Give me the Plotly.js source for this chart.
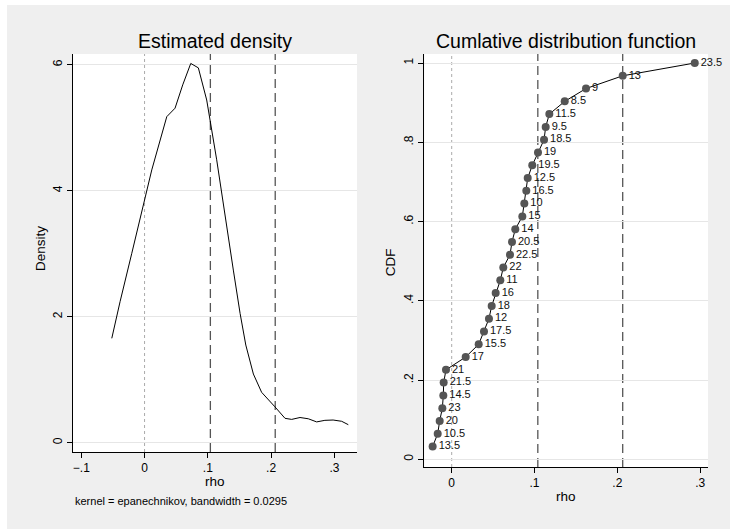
<!DOCTYPE html>
<html>
<head>
<meta charset="utf-8">
<script src="https://cdn.plot.ly/plotly-3.0.1.min.js"></script>
<style>
html,body{margin:0;padding:0;background:#ffffff;}
#chart{position:absolute;left:7px;top:5px;width:723px;height:524px;}
</style>
</head>
<body>
<div id="chart"></div>
<script>
// Estimated density (kernel density of rho)
const densX = [-0.0518,-0.0387,-0.0202,-0.0071,0.0114,0.0351,0.0482,0.0603,0.0730,0.0850,0.0982,0.1140,0.1280,0.1403,0.1510,0.1600,0.1720,0.1850,0.2060,0.2220,0.2325,0.2457,0.2588,0.2720,0.2850,0.2980,0.3115,0.3220];
const densY = [1.657,2.24,3.006,3.535,4.33,5.175,5.31,5.68,6.02,5.95,5.44,4.49,3.535,2.74,2.05,1.55,1.09,0.80,0.57,0.387,0.37,0.40,0.38,0.33,0.355,0.36,0.34,0.286];

// Cumulative distribution function
const cdfRho = [-0.0230,-0.0169,-0.0145,-0.0113,-0.0101,-0.0097,-0.0069,0.0169,0.0326,0.0390,0.0450,0.0483,0.0531,0.0587,0.0623,0.0704,0.0728,0.0768,0.0853,0.0877,0.0901,0.0918,0.0973,0.1042,0.1115,0.1135,0.1179,0.1365,0.1622,0.2065,0.2935];
const cdfVals = [0.0323,0.0645,0.0968,0.1290,0.1613,0.1935,0.2258,0.2581,0.2903,0.3226,0.3548,0.3871,0.4194,0.4516,0.4839,0.5161,0.5484,0.5806,0.6129,0.6452,0.6774,0.7097,0.7419,0.7742,0.8065,0.8387,0.8710,0.9032,0.9355,0.9677,1.0000];
const cdfLabels = ["13.5","10.5","20","23","14.5","21.5","21","17","15.5","17.5","12","18","16","11","22","22.5","20.5","14","15","10","16.5","12.5","19.5","19","18.5","9.5","11.5","8.5","9","13","23.5"];

// Reference lines
const zeroLine = 0;
const refLines = [0.104, 0.2065];

// Tick labels
const densXTicks = [-0.1, 0, 0.1, 0.2, 0.3];
const densXTickText = ["\u2212.1", "0", ".1", ".2", ".3"];
const densYTicks = [0, 2, 4, 6];
const densYTickText = ["0", "2", "4", "6"];
const cdfXTicks = [0, 0.1, 0.2, 0.3];
const cdfXTickText = ["0", ".1", ".2", ".3"];
const cdfYTicks = [0, 0.2, 0.4, 0.6, 0.8, 1];
const cdfYTickText = ["0", ".2", ".4", ".6", ".8", "1"];

const FONT = "Liberation Sans, Arial, Helvetica, sans-serif";

const traces = [
  {x: densX, y: densY, type: 'scatter', mode: 'lines', xaxis: 'x', yaxis: 'y',
   line: {color: '#000000', width: 1}, hoverinfo: 'skip'},
  {x: cdfRho, y: cdfVals, text: cdfLabels, type: 'scatter', mode: 'lines+markers+text',
   xaxis: 'x2', yaxis: 'y2', textposition: 'middle right',
   textfont: {family: FONT, size: 11, color: '#111111'},
   line: {color: '#000000', width: 1},
   marker: {color: '#555555', size: 8}, cliponaxis: false, hoverinfo: 'skip'}
];

const shapes = [];
function vline(xv, xr, yr, dash, color, width) {
  shapes.push({type: 'line', xref: xr, yref: yr + ' domain', x0: xv, x1: xv, y0: 0, y1: 1,
    line: {color: color, width: width, dash: dash}, layer: 'below'});
}
[['x','y'],['x2','y2']].forEach(function(p){
  vline(zeroLine, p[0], p[1], 'dot', '#aaaaaa', 1);
  refLines.forEach(function(v){ vline(v, p[0], p[1], '9px,5px', '#555555', 1.3); });
});

function axisBase() {
  return {showline: true, linecolor: '#000000', linewidth: 1, ticks: 'outside', ticklen: 5,
    tickcolor: '#000000', tickwidth: 1, zeroline: false, tickmode: 'array',
    tickfont: {family: FONT, size: 12, color: '#000000'}, fixedrange: true};
}

const layout = {
  width: 723, height: 524,
  margin: {l: 66, r: 22, t: 49, b: 62},
  paper_bgcolor: '#efefef', plot_bgcolor: '#ffffff',
  showlegend: false,
  font: {family: FONT, color: '#000000'},
  xaxis: Object.assign(axisBase(), {domain: [0, 0.4472], range: [-0.1131, 0.3357],
    tickvals: densXTicks, ticktext: densXTickText, showgrid: false, anchor: 'y'}),
  yaxis: Object.assign(axisBase(), {domain: [0.0363, 1], range: [-0.1476, 6.170],
    tickvals: densYTicks, ticktext: densYTickText, showgrid: true, gridcolor: '#e6e6e6',
    tickangle: -90, anchor: 'x'}),
  xaxis2: Object.assign(axisBase(), {domain: [0.5532, 1], range: [-0.0331, 0.3095],
    tickvals: cdfXTicks, ticktext: cdfXTickText, showgrid: false, anchor: 'y2'}),
  yaxis2: Object.assign(axisBase(), {domain: [0, 1], range: [-0.0194, 1.0227],
    tickvals: cdfYTicks, ticktext: cdfYTickText, showgrid: true, gridcolor: '#e6e6e6',
    tickangle: -90, anchor: 'x2'}),
  shapes: shapes,
  annotations: [
    {text: 'Estimated density', xref: 'paper', yref: 'paper', x: 0.2236, y: 1.0315,
     xanchor: 'center', yanchor: 'middle', showarrow: false, font: {size: 19.5, family: FONT}},
    {text: 'Cumlative distribution function', xref: 'paper', yref: 'paper', x: 0.7764, y: 1.0315,
     xanchor: 'center', yanchor: 'middle', showarrow: false, font: {size: 19.5, family: FONT}},
    {text: 'Density', xref: 'paper', yref: 'paper', x: -0.052, y: 0.530, textangle: -90,
     xanchor: 'center', yanchor: 'middle', showarrow: false, font: {size: 13.5, family: FONT}},
    {text: 'CDF', xref: 'paper', yref: 'paper', x: 0.4992, y: 0.496, textangle: -90,
     xanchor: 'center', yanchor: 'middle', showarrow: false, font: {size: 13.5, family: FONT}},
    {text: 'rho', xref: 'paper', yref: 'paper', x: 0.2236, y: -0.0339,
     xanchor: 'center', yanchor: 'middle', showarrow: false, font: {size: 13.5, family: FONT}},
    {text: 'kernel = epanechnikov, bandwidth = 0.0295', xref: 'paper', yref: 'paper', x: 0.170, y: -0.0823,
     xanchor: 'center', yanchor: 'middle', showarrow: false, font: {size: 11, family: FONT}},
    {text: 'rho', xref: 'paper', yref: 'paper', x: 0.7764, y: -0.0726,
     xanchor: 'center', yanchor: 'middle', showarrow: false, font: {size: 13.5, family: FONT}}
  ]
};

Plotly.newPlot('chart', traces, layout, {displayModeBar: false, staticPlot: true});
</script>
</body>
</html>
